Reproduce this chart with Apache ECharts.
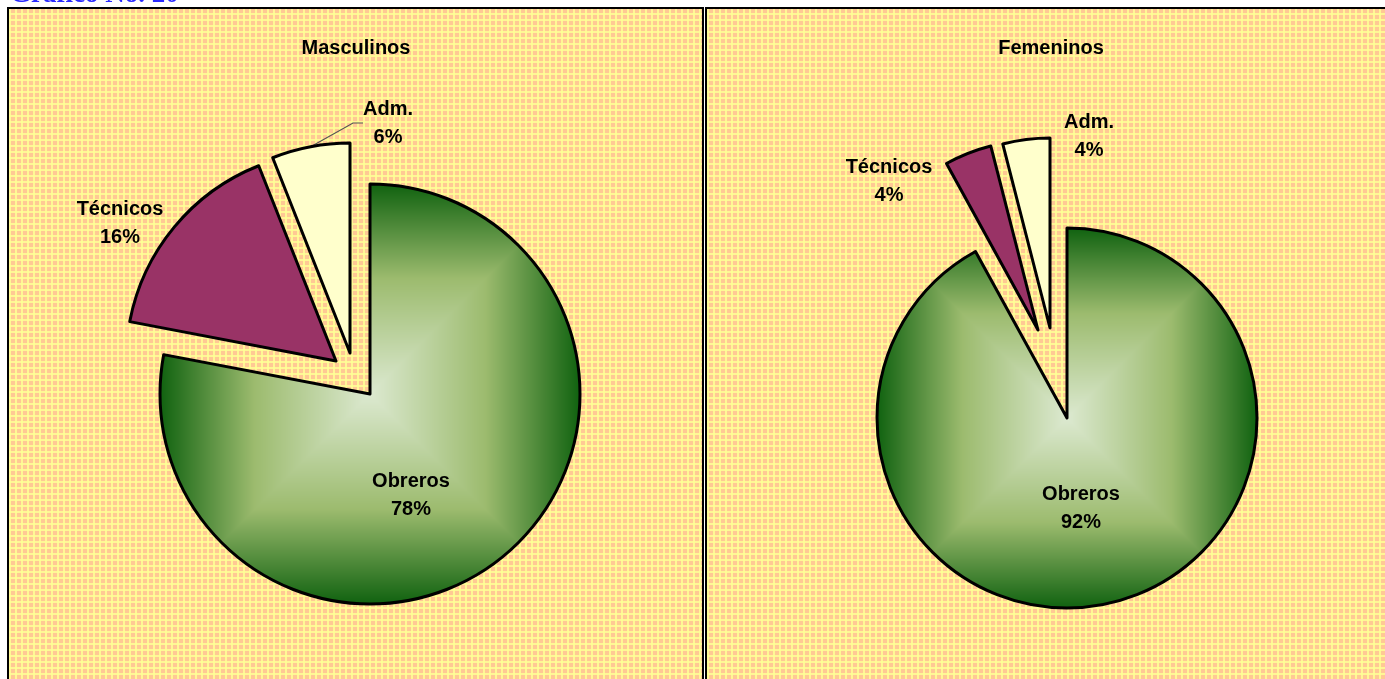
<!DOCTYPE html>
<html>
<head>
<meta charset="utf-8">
<script src="https://cdn.jsdelivr.net/npm/echarts@6/dist/echarts.min.js"></script>
<style>
  html, body { margin: 0; padding: 0; background: #fff; overflow: hidden; }
  .panel {
    position: absolute; top: 7px; height: 700px;
    border: 2px solid #000; box-sizing: border-box;
    background-color: #ffc994;
    background-image:
      linear-gradient(90deg, rgba(255,255,150,.85) 2px, transparent 2px),
      linear-gradient(0deg, rgba(255,255,150,.85) 2px, transparent 2px);
    background-size: 6px 6px, 6px 6px;
  }
  #left { left: 7px; width: 697px; }
  #right { left: 705px; width: 700px; }
  #chart { position: absolute; left: 0; top: 0; width: 1385px; height: 679px; }
</style>
</head>
<body>
<div class="panel" id="left"></div>
<div class="panel" id="right"></div>
<div id="chart"></div>
<script>
  // data
  const categories = ['Obreros', 'Técnicos', 'Adm.']
  const masculinos = [78, 16, 6]
  const femeninos = [92, 4, 4]
  const titles = ['Masculinos', 'Femeninos']
  const heading = 'Gráfico No. 20'

  const W = 1385, H = 679

  // layout of each panel (centre of the pie, exploded offsets, label spots)
  const panels = [
    {
      title: titles[0], values: masculinos, titlePos: [356, 48],
      center: [370, 394], radius: 210,
      offsets: [[0, 0], [-34, -33], [-20, -41]],
      labelPos: [[411, 495], [120, 223], [388, 123]],
      leader: [false, false, true]
    },
    {
      title: titles[1], values: femeninos, titlePos: [1051, 48],
      center: [1067, 418], radius: 190,
      offsets: [[0, 0], [-29, -88], [-17, -90]],
      labelPos: [[1081, 508], [889, 181], [1089, 136]],
      leader: [false, false, false]
    }
  ]

  // excel-like "from centre" square gradient for the green slice
  const greenStops = [[0, [220, 233, 208]], [0.55, [156, 187, 110]], [1, [16, 98, 16]]]
  function squareGradient(cx, cy, r) {
    const cv = document.createElement('canvas')
    cv.width = W
    cv.height = H
    const ctx = cv.getContext('2d')
    const x0 = Math.max(0, Math.floor(cx - r - 4)), y0 = Math.max(0, Math.floor(cy - r - 4))
    const x1 = Math.min(W, Math.ceil(cx + r + 4)), y1 = Math.min(H, Math.ceil(cy + r + 4))
    const img = ctx.createImageData(x1 - x0, y1 - y0)
    for (let y = y0; y < y1; y++) {
      for (let x = x0; x < x1; x++) {
        const t = Math.min(1, Math.max(Math.abs(x + 0.5 - cx), Math.abs(y + 0.5 - cy)) / r)
        let j = 1
        while (j < greenStops.length - 1 && t > greenStops[j][0]) j++
        const a = greenStops[j - 1], b = greenStops[j]
        const f = (t - a[0]) / (b[0] - a[0])
        const o = ((y - y0) * (x1 - x0) + (x - x0)) * 4
        for (let c = 0; c < 3; c++) img.data[o + c] = Math.round(a[1][c] + (b[1][c] - a[1][c]) * f)
        img.data[o + 3] = 255
      }
    }
    ctx.putImageData(img, x0, y0)
    return cv
  }

  const font = 'Liberation Sans, Arial, sans-serif'
  const series = []
  panels.forEach(p => {
    const colors = [
      { image: squareGradient(p.center[0], p.center[1], p.radius), repeat: 'no-repeat' },
      '#993366',
      '#ffffcc'
    ]
    categories.forEach((name, k) => {
      series.push({
        type: 'pie',
        radius: p.radius,
        center: [p.center[0] + p.offsets[k][0], p.center[1] + p.offsets[k][1]],
        startAngle: 90,
        clockwise: true,
        animation: false,
        silent: true,
        avoidLabelOverlap: false,
        label: {
          formatter: '{b}\n{d}%',
          fontFamily: font,
          fontWeight: 'bold',
          fontSize: 20,
          lineHeight: 28,
          color: '#000',
          align: 'center'
        },
        labelLine: {
          lineStyle: { color: '#555', width: 1.2 },
          length: 8,
          length2: 10
        },
        labelLayout: {
          x: p.labelPos[k][0], y: p.labelPos[k][1],
          align: 'center', verticalAlign: 'middle'
        },
        data: categories.map((c, i) => ({
          name: c,
          value: p.values[i],
          itemStyle: i === k
            ? { color: colors[i], borderColor: '#000', borderWidth: 3, borderJoin: 'round' }
            : { color: 'rgba(0,0,0,0)', borderWidth: 0 },
          label: { show: i === k },
          labelLine: { show: i === k && p.leader[i] }
        }))
      })
    })
  })

  const graphic = panels.map(p => ({
    type: 'text',
    x: p.titlePos[0], y: p.titlePos[1],
    style: {
      text: p.title, fill: '#000',
      font: 'bold 20px ' + font,
      align: 'center', verticalAlign: 'middle'
    }
  }))
  graphic.push({
    type: 'text', x: 10, y: 9,
    style: {
      text: heading, fill: '#2a2aff',
      font: 'bold 27px Liberation Serif, Times New Roman, serif',
      align: 'left', verticalAlign: 'bottom'
    }
  })

  const chart = echarts.init(document.getElementById('chart'))
  chart.setOption({
    backgroundColor: 'transparent',
    animation: false,
    graphic: graphic,
    series: series
  })
</script>
</body>
</html>
